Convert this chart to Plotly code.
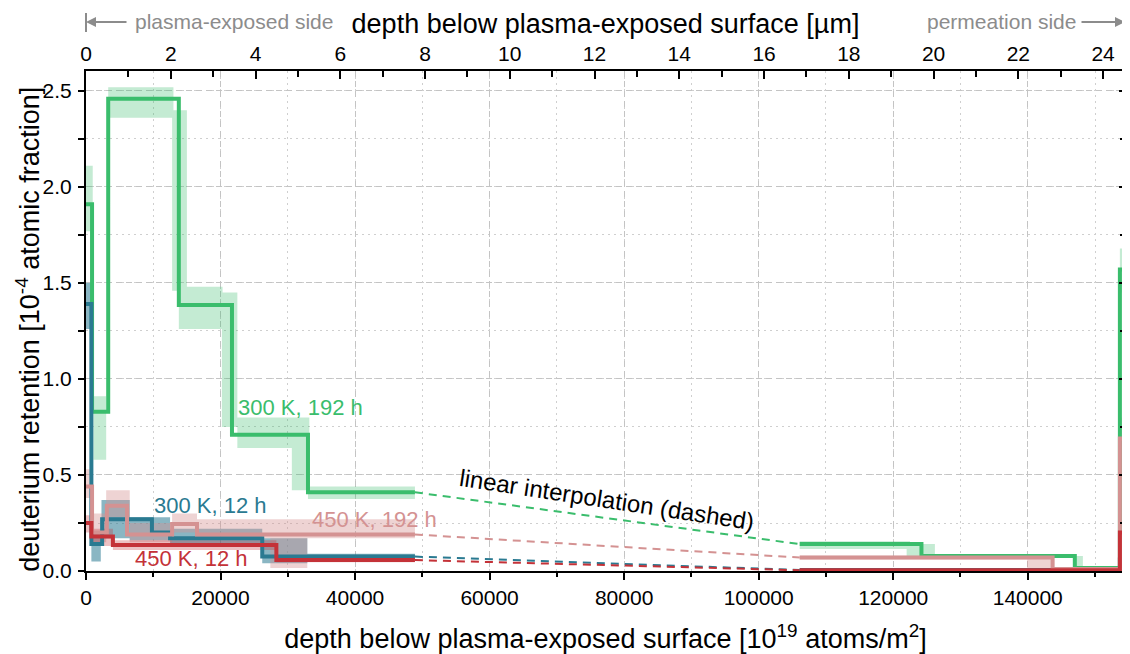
"""
Deuterium depth profiles: step profiles with uncertainty bands, linear interpolation across the gap.
"""

import plotly.graph_objects as go

FONT = 'Liberation Sans, Arial, sans-serif'
UM_PER_UNIT = 6300.0          # 1 um of W = 6300 x 10^19 atoms/m^2
X_MAX = 154460
Y_MAX = 2.604

# colours
C_GREEN = 'rgb(58,189,108)'
C_TEAL = 'rgb(42,122,145)'
C_PINK = 'rgb(212,146,146)'
C_RED = 'rgb(196,50,56)'
GRAY = '#8c8c8c'

# ---- 300 K, 192 h -------------------------------------------------------
green_left_edges = [0, 900, 3300, 13800, 21700, 33000, 48900]
green_left_vals = [1.91, 0.83, 2.46, 1.385, 0.71, 0.41]
green_right_edges = [106100, 124200, 147000, 153700, X_MAX]
green_right_vals = [0.14, 0.078, 0.015, 1.57]
green_band_x0 = [0, 1100, 3300, 12800, 13800, 20200, 22500, 30600, 33000,
                 106100, 122000, 124200, 147000, 153700]
green_band_x1 = [1000, 3000, 13000, 15000, 20300, 22500, 33200, 33000, 48900,
                 122500, 126200, 147000, 148200, X_MAX]
green_band_lo = [1.77, 0.58, 2.36, 1.46, 1.26, 0.75, 0.64, 0.42, 0.375,
                 0.115, 0.078, 0.068, 0.025, 1.45]
green_band_hi = [2.11, 0.91, 2.52, 2.40, 1.48, 1.45, 0.80, 0.66, 0.44,
                 0.155, 0.14, 0.088, 0.078, 1.68]

# ---- 300 K, 12 h --------------------------------------------------------
teal_left_edges = [0, 800, 2400, 9800, 12500, 26200, 48900]
teal_left_vals = [1.39, 0.14, 0.27, 0.20, 0.17, 0.075]
teal_right_edges = [106100, 153700, X_MAX]
teal_right_vals = [0.005, 0.06]
teal_band_x0 = [0, 800, 2300, 6500, 12500, 26200, 32900]
teal_band_x1 = [900, 2200, 6500, 12500, 26200, 32900, 48900]
teal_band_lo = [1.26, 0.05, 0.17, 0.16, 0.13, 0.04, 0.06]
teal_band_hi = [1.50, 0.20, 0.37, 0.28, 0.22, 0.17, 0.09]

# ---- 450 K, 192 h -------------------------------------------------------
pink_left_edges = [0, 900, 3100, 6100, 12800, 16500, 48900]
pink_left_vals = [0.44, 0.20, 0.34, 0.19, 0.245, 0.19]
pink_right_edges = [106100, 143700, 153700, X_MAX]
pink_right_vals = [0.07, 0.01, 0.69]
pink_band_x0 = [0, 900, 3000, 6500, 12800, 16500, 27400,
                106100, 139900, 143700, 153700]
pink_band_x1 = [900, 3000, 6500, 12800, 16500, 48900, 32900,
                139900, 143700, 153700, X_MAX]
pink_band_lo = [0.38, 0.15, 0.28, 0.15, 0.20, 0.17, 0.015,
                0.06, 0.015, 0.005, 0.50]
pink_band_hi = [0.53, 0.30, 0.42, 0.25, 0.30, 0.27, 0.17,
                0.08, 0.065, 0.015, 0.80]

# ---- 450 K, 12 h --------------------------------------------------------
red_left_edges = [0, 800, 4000, 28300, 48900]
red_left_vals = [0.25, 0.18, 0.135, 0.057]
red_right_edges = [106100, 153700, X_MAX]
red_right_vals = [0.004, 0.20]
red_band_x0 = [0, 800, 4000, 28300, 153700]
red_band_x1 = [900, 4000, 28300, 48900, X_MAX]
red_band_lo = [0.20, 0.13, 0.11, 0.045, 0.17]
red_band_hi = [0.29, 0.22, 0.16, 0.070, 0.23]

x_ticks = [0, 20000, 40000, 60000, 80000, 100000, 120000, 140000]
um_ticks = [0, 2, 4, 6, 8, 10, 12, 14, 16, 18, 20, 22, 24]
y_ticks = [0.0, 0.5, 1.0, 1.5, 2.0, 2.5]

SERIES = [
    # name, colour, band alpha, left, right, band  (drawn in this order)
    ('300 K, 192 h', C_GREEN, 0.30,
     (green_left_edges, green_left_vals), (green_right_edges, green_right_vals),
     (green_band_x0, green_band_x1, green_band_lo, green_band_hi)),
    ('300 K, 12 h', C_TEAL, 0.55,
     (teal_left_edges, teal_left_vals), (teal_right_edges, teal_right_vals),
     (teal_band_x0, teal_band_x1, teal_band_lo, teal_band_hi)),
    ('450 K, 192 h', C_PINK, 0.40,
     (pink_left_edges, pink_left_vals), (pink_right_edges, pink_right_vals),
     (pink_band_x0, pink_band_x1, pink_band_lo, pink_band_hi)),
    ('450 K, 12 h', C_RED, 0.30,
     (red_left_edges, red_left_vals), (red_right_edges, red_right_vals),
     (red_band_x0, red_band_x1, red_band_lo, red_band_hi)),
]


def _rgba(rgb, a):
    return rgb.replace('rgb(', 'rgba(').replace(')', f',{a})')


def _band_xy(x0s, x1s, los, his):
    xs, ys = [], []
    for x0, x1, lo, hi in zip(x0s, x1s, los, his):
        xs += [x0, x1, x1, x0, x0, None]
        ys += [lo, lo, hi, hi, lo, None]
    return xs, ys


def _step_xy(edges, vals):
    return list(edges), list(vals) + [vals[-1]]


fig = go.Figure()

# uncertainty bands
for name, col, alpha, left, right, band in SERIES:
    bx, by = _band_xy(*band)
    fig.add_trace(go.Scatter(
        x=bx, y=by, mode='lines', fill='toself',
        fillcolor=_rgba(col, alpha), line=dict(width=0),
        hoverinfo='skip', showlegend=False,
    ))

# dashed linear interpolation across the unmeasured gap
for name, col, alpha, left, right, band in SERIES:
    fig.add_trace(go.Scatter(
        x=[left[0][-1], right[0][0]], y=[left[1][-1], right[1][0]],
        mode='lines', line=dict(color=col, width=2, dash='8px,6px'),
        hoverinfo='skip', showlegend=False,
    ))

# step profiles
for name, col, alpha, left, right, band in SERIES:
    for edges, vals in (left, right):
        sx, sy = _step_xy(edges, vals)
        fig.add_trace(go.Scatter(
            x=sx, y=sy, mode='lines', line=dict(color=col, width=4, shape='hv'),
            name=name, showlegend=False,
        ))

# dummy traces so the secondary axes are drawn
fig.add_trace(go.Scatter(x=[0], y=[0], xaxis='x2', yaxis='y', mode='markers',
                         marker=dict(opacity=0), hoverinfo='skip', showlegend=False))
fig.add_trace(go.Scatter(x=[0], y=[0], xaxis='x', yaxis='y2', mode='markers',
                         marker=dict(opacity=0), hoverinfo='skip', showlegend=False))

# series labels
labels = [
    ('300 K, 192 h', C_GREEN, 22300, 0.85),
    ('300 K, 12 h', C_TEAL, 9800, 0.34),
    ('450 K, 192 h', C_PINK, 33300, 0.27),
    ('450 K, 12 h', C_RED, 7000, 0.063),
]
for txt, col, lx, ly in labels:
    fig.add_annotation(x=lx, y=ly, text=txt, showarrow=False, xanchor='left',
                       yanchor='middle', font=dict(color=col, size=22, family=FONT))

fig.add_annotation(x=77450, y=0.37, text='linear interpolation (dashed)', showarrow=False,
                   textangle=8.6, font=dict(color='black', size=24, family=FONT))

# y-axis title as an annotation (sits closer to the tick labels than standoff allows)
fig.add_annotation(xref='paper', yref='paper', x=-0.056, y=0.484, textangle=-90,
                   text='deuterium retention [10<sup>-4</sup> atomic fraction]',
                   showarrow=False, xanchor='center', yanchor='middle',
                   font=dict(color='black', size=27, family=FONT))

# side markers above the plot
ARROW_Y = 1.098
fig.add_annotation(xref='paper', yref='paper', x=0, y=ARROW_Y, ax=42, ay=0,
                   axref='pixel', ayref='pixel', text='', showarrow=True,
                   arrowhead=2, arrowsize=1, arrowwidth=2, arrowcolor=GRAY)
fig.add_annotation(xref='paper', yref='paper', x=0.045, y=ARROW_Y, text='plasma-exposed side',
                   showarrow=False, xanchor='left', yanchor='middle',
                   font=dict(color=GRAY, size=21, family=FONT))
fig.add_annotation(xref='paper', yref='paper', x=1, y=ARROW_Y, ax=-45, ay=0,
                   axref='pixel', ayref='pixel', text='', showarrow=True,
                   arrowhead=2, arrowsize=1, arrowwidth=2, arrowcolor=GRAY)
fig.add_annotation(xref='paper', yref='paper', x=0.955, y=ARROW_Y, text='permeation side',
                   showarrow=False, xanchor='right', yanchor='middle',
                   font=dict(color=GRAY, size=21, family=FONT))
for px in (0, 1):
    fig.add_shape(type='line', xref='paper', yref='paper', x0=px, x1=px, y0=1.078, y1=1.116,
                  line=dict(color=GRAY, width=2))

grid_major = dict(showgrid=True, gridcolor='#c4c4c4', gridwidth=1.3, griddash='6px,4px')
line_box = dict(showline=True, linecolor='black', linewidth=2, zeroline=False)

# the page body adds an 8px offset, so the figure is sized 8px short of the window
fig.update_layout(
    width=1122, height=646,
    margin=dict(l=78, r=5, t=63, b=83),
    plot_bgcolor='white', paper_bgcolor='white',
    font=dict(family=FONT, color='black', size=21),
    showlegend=False,
    xaxis=dict(
        range=[0, X_MAX], tickvals=x_ticks, tickformat='d', ticks='outside', ticklen=7,
        tickwidth=2, tickcolor='black', tickfont=dict(size=21),
        minor=dict(dtick=10000, tick0=0, ticks='outside', ticklen=4, tickwidth=1.5,
                   tickcolor='black', showgrid=True, gridcolor='#cfcfcf', gridwidth=1.3,
                   griddash='2px,4px'),
        title=dict(text='depth below plasma-exposed surface [10<sup>19</sup> atoms/m<sup>2</sup>]',
                   font=dict(size=27), standoff=22),
        automargin=False, **grid_major, **line_box,
    ),
    xaxis2=dict(
        overlaying='x', side='top', anchor='y', range=[0, X_MAX / UM_PER_UNIT],
        tickvals=um_ticks, ticks='inside', ticklen=8, tickwidth=2, tickcolor='black',
        tickfont=dict(size=21),
        minor=dict(dtick=1, tick0=0, ticks='inside', ticklen=6, tickwidth=1.5,
                   tickcolor='black', showgrid=False),
        showgrid=False,
        title=dict(text='depth below plasma-exposed surface [µm]', font=dict(size=27), standoff=0),
        automargin=False, **line_box,
    ),
    yaxis=dict(
        range=[0, Y_MAX], tickvals=y_ticks, tickformat='.1f', ticks='outside', ticklen=6,
        tickwidth=2, tickcolor='black', tickfont=dict(size=21), ticklabelstandoff=2,
        minor=dict(dtick=0.25, tick0=0, ticks='outside', ticklen=6, tickwidth=1.5,
                   tickcolor='black', showgrid=True, gridcolor='#cfcfcf', gridwidth=1.3,
                   griddash='2px,4px'),
        automargin=False, **grid_major, **line_box,
    ),
    yaxis2=dict(
        overlaying='y', side='right', anchor='x', range=[0, Y_MAX], tickvals=y_ticks,
        ticks='inside', ticklen=6, tickwidth=2, tickcolor='black', showticklabels=False,
        minor=dict(dtick=0.25, tick0=0, ticks='inside', ticklen=5, tickwidth=1.5,
                   tickcolor='black', showgrid=False),
        showgrid=False, automargin=False, **line_box,
    ),
)

fig.write_html('out.html')
